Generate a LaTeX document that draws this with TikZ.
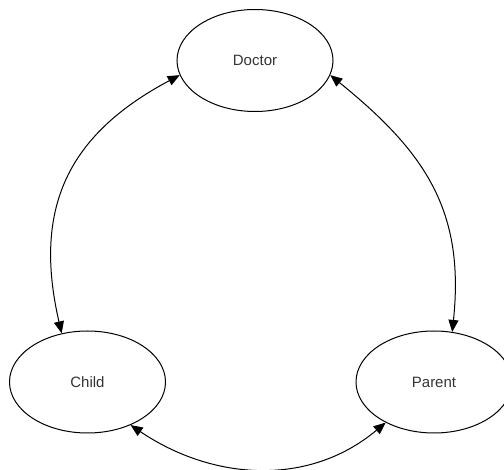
\documentclass[tikz,border=0pt]{standalone}
\usepackage{fontspec}
\setmainfont{Liberation Sans}
\usetikzlibrary{arrows.meta,shapes.geometric}
\begin{document}
\begin{tikzpicture}[x=1pt,y=-1pt,
  entity/.style={draw=black, line width=1pt, ellipse, minimum width=156pt, minimum height=102pt, inner sep=0pt,
    font=\fontsize{15}{18}\selectfont, text=black!80},
  link/.style={draw=black, line width=1pt, {Triangle[width=10pt,length=12pt]}-{Triangle[width=10pt,length=12pt]}}]
\useasboundingbox (0,0) rectangle (504,470);
\node[entity] (doctor) at (255,60.5) {Doctor};
\node[entity] (child) at (87.5,382) {Child};
\node[entity] (parent) at (434,382) {Parent};
\draw[link] (doctor.-169) to[out=208, in=103, looseness=1.15] (child.118);
\draw[link] (doctor.-11) to[out=-39, in=84, looseness=1.1] (parent.70);
\draw[link] (child.-45) to[out=-34, in=220, looseness=1.0] (parent.-140);
\end{tikzpicture}
\end{document}
